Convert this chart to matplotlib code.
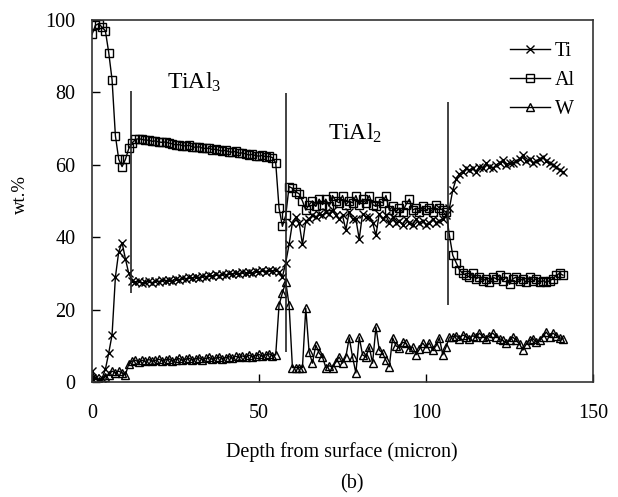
import numpy as np
import matplotlib
matplotlib.use("Agg")
import matplotlib.pyplot as plt

plt.rcParams['font.family'] = ['Liberation Serif', 'DejaVu Serif']
plt.rcParams['mathtext.fontset'] = 'custom'
plt.rcParams['mathtext.rm'] = 'Liberation Serif'
plt.rcParams['mathtext.it'] = 'Liberation Serif:italic'

# depth grid (micron), one reading per micron
depth = np.arange(0, 142)

ti = [3, 1, 0.5, 1, 3.5, 8, 13, 29, 36, 38.5,
      34, 30, 28, 27.5, 27.8, 27.3, 27.6, 27.8, 27.4, 28,
      27.7, 28.2, 27.9, 28.3, 28, 28.5, 28.2, 28.7, 28.4, 28.9,
      28.6, 29.1, 28.8, 29.3, 29, 29.5, 29.2, 29.7, 29.4, 29.8,
      29.5, 30, 29.7, 30.2, 29.9, 30.3, 30, 30.5, 30.2, 30.6,
      30.3, 30.8, 30.5, 31, 30.7, 30.8, 30.5, 29, 33, 38,
      44, 45.5, 44, 38, 44.5, 45, 46, 45.5, 46.5, 46,
      47, 46.5, 47.5, 46, 45, 46, 42, 47, 45, 45,
      39.5, 46.5, 45.5, 45.5, 44, 40.5, 46.5, 45, 46, 44,
      45.5, 44, 44.5, 43.5, 45, 44, 43.5, 45, 44, 44.5,
      43.5, 44, 45, 44, 44.5, 45, 46, 48, 53, 56,
      57.5, 58, 59, 58.5, 59, 58, 59.5, 59, 60.5, 59.5,
      59, 60, 60.5, 61.3, 60, 60.5, 60.5, 61, 61.5, 62.7,
      61, 61.5, 60.5, 61, 61.5, 62.2, 61, 60.5, 60, 59.5,
      58.5, 58]

al = [96, 98.5, 99, 98, 97, 91, 83.5, 68, 61.5, 59.5,
      61.5, 64.5, 66, 67, 67.2, 67, 66.8, 66.8, 66.5, 66.6,
      66.3, 66.2, 66.3, 66, 65.8, 65.5, 65.6, 65.3, 65.2, 65.4,
      65, 64.8, 65, 64.6, 64.5, 64.6, 64.2, 64.3, 64, 63.8,
      64, 63.6, 63.5, 63.7, 63.2, 63.3, 63, 62.7, 62.9, 62.5,
      62.4, 62.6, 62.2, 62.3, 62, 60.5, 48, 43, 46, 54,
      53.5, 52.5, 52, 50, 47.5, 49, 50, 48.5, 50.5, 49,
      50.5, 48.5, 51.5, 50, 49.5, 51.5, 49, 50, 49.5, 51.5,
      49, 50.5, 49.5, 51.5, 49, 48.5, 50, 49.5, 51.5, 47.5,
      48.5, 47, 48, 47, 49, 50.5, 47.5, 48, 47, 48.5,
      47.5, 48, 47, 49, 48, 47.5, 47, 40.5, 35, 33,
      31, 30, 29.5, 29, 30, 28.5, 29, 28, 28.5, 27.5,
      29, 28.5, 29.5, 28, 29, 27, 28.5, 29, 28, 28.5,
      27.5, 29, 28, 28.5, 27.5, 28, 27.5, 28, 28.5, 29.5,
      30, 29.5]

w = [0.5, 1, 0.3, 0.5, 1.5, 2, 3, 2.5, 3, 2.5,
     2, 5, 5.8, 6, 5.5, 6, 5.7, 6.2, 5.8, 6,
     6.3, 5.9, 6.1, 6.4, 5.8, 6.2, 6.5, 6, 6.3, 6.6,
     6.1, 6.4, 6.7, 6.2, 6.5, 6.8, 6.3, 6.6, 6.9, 6.4,
     6.7, 7, 6.6, 7.1, 6.8, 7.2, 6.9, 7.4, 7, 7.3,
     7.6, 7.1, 7.5, 7.8, 7.3, 7.5, 21.3, 24.6, 27.6, 21.3,
     4, 4, 4, 4, 20.4, 8.3, 5.2, 10.2, 8, 6.9,
     4, 4.5, 4, 5.5, 6.9, 5.2, 7, 12.2, 6.9, 2.5,
     12.4, 7.5, 6.9, 9.7, 5.2, 15.2, 8.8, 8, 6, 4.2,
     12.2, 10, 9.4, 11, 10.7, 9, 9.7, 7.5, 9, 10.8,
     9.5, 10.8, 8.8, 10, 12.2, 7.5, 9.7, 12.4, 12.5, 12.8,
     12, 13, 12.5, 12, 12.8, 12.3, 13.5, 12.5, 12, 12.8,
     13.5, 12.5, 12, 11.5, 10.8, 11.5, 12.4, 11.5, 10.5, 8.8,
     10.5, 11.5, 12, 11, 11.6, 12.5, 13.8, 12.5, 13.5, 12.8,
     12.2, 12]

# phase boundaries: x, y_bottom, y_top
boundary_x = [11.7, 58.1, 106.6]
boundary_lo = [24.6, 8.3, 21.3]
boundary_hi = [80.4, 79.8, 77.3]

fig = plt.figure(figsize=(6.18, 4.97), dpi=100)
ax = fig.add_axes([0.1489, 0.2314, 0.8107, 0.7284])

ms = 6
ax.plot(depth, ti, '-x', color='black', lw=1.0, ms=ms, mew=1.0, label='Ti')
ax.plot(depth, al, '-s', color='black', lw=1.0, ms=ms, mew=1.0, mfc='none', label='Al')
ax.plot(depth, w, '-^', color='black', lw=1.0, ms=ms, mew=1.0, mfc='none', label='W')

ax.vlines(boundary_x, boundary_lo, boundary_hi, color='#222222', lw=1.2)

ax.text(30.5, 82.9, 'TiAl$_3$', fontsize=17, ha='center', va='center')
ax.text(78.7, 68.8, 'TiAl$_2$', fontsize=17, ha='center', va='center')

ax.set_xlim(0, 150)
ax.set_ylim(0, 100)
ax.set_xticks([0, 50, 100, 150])
ax.set_yticks([0, 20, 40, 60, 80, 100])
ax.tick_params(axis='both', direction='in', length=6, width=1, labelsize=14.5)
ax.tick_params(axis='x', pad=16)
ax.tick_params(axis='y', pad=12)
for s in ax.spines.values():
    s.set_linewidth(1.2)
    s.set_color('#333333')

ax.legend(loc='upper left', bbox_to_anchor=(0.834, 0.94), frameon=False,
          fontsize=14.5, handlelength=2.0, handletextpad=0.25,
          labelspacing=0.5, borderpad=0, borderaxespad=0)

fig.text(342 / 618, 1 - 452 / 497, 'Depth from surface (micron)', fontsize=14.5,
         ha='center', va='center')
fig.text(20 / 618, 1 - 195 / 497, 'wt.%', fontsize=13.5, rotation=90,
         ha='center', va='center')
fig.text(352 / 618, 1 - 484 / 497, '(b)', fontsize=14.5, ha='center', va='center')

fig.savefig('out.png', dpi=100)
